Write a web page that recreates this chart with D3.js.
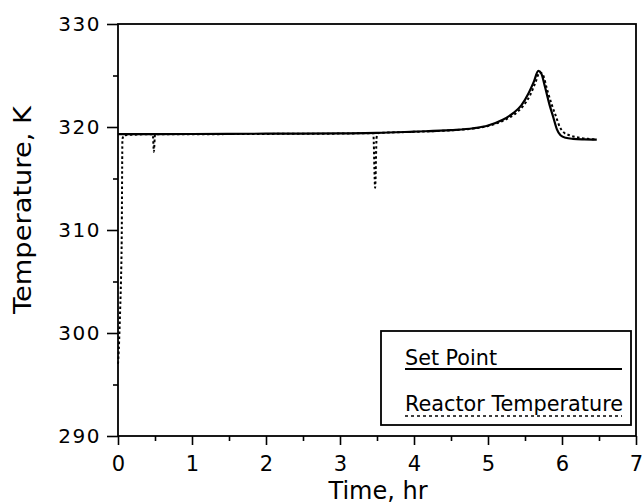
<html>
<head>
<script src="https://d3js.org/d3.v7.min.js"></script>
<style>
  body { margin: 0; background: #fff; }
  text { font-family: "DejaVu Sans", sans-serif; fill: #000; }
</style>
</head>
<body>
<svg id="chart" width="644" height="504"></svg>
<script>

// Set point curve (solid)
var spTime = [0, 1, 2, 3, 3.5, 4, 4.5, 4.8, 5.0, 5.2, 5.35, 5.45, 5.55, 5.62, 5.68, 5.72, 5.77, 5.83, 5.88, 5.93, 5.98, 6.05, 6.15, 6.3, 6.47];
var spTemp = [319.3, 319.32, 319.35, 319.38, 319.42, 319.55, 319.7, 319.88, 320.15, 320.7, 321.4, 322.1, 323.3, 324.4, 325.45, 325.2, 323.9, 322.2, 321.0, 319.8, 319.2, 318.95, 318.85, 318.8, 318.78];

// Reactor temperature (dotted)
var rtTime = [0, 0.01, 0.02, 0.03, 0.04, 0.05, 0.06, 0.08, 0.2, 0.47, 0.485, 0.5, 1, 2, 3, 3.45, 3.475, 3.495, 3.52, 4, 4.5, 4.8, 5.0, 5.2, 5.37, 5.47, 5.57, 5.64, 5.7, 5.74, 5.8, 5.86, 5.92, 5.97, 6.02, 6.1, 6.2, 6.35, 6.47];
var rtTemp = [297.0, 298.3, 300.2, 302.5, 305.0, 309.0, 318.8, 319.2, 319.25, 319.3, 317.6, 319.3, 319.3, 319.33, 319.36, 319.4, 314.1, 319.0, 319.42, 319.53, 319.68, 319.85, 320.1, 320.6, 321.3, 322.0, 323.1, 324.3, 325.3, 325.1, 323.6, 322.2, 321.0, 320.0, 319.5, 319.2, 319.0, 318.85, 318.8];

// ticks and labels
var xMajor = [0, 1, 2, 3, 4, 5, 6, 7];
var xMinor = [0.5, 1.5, 2.5, 3.5, 4.5, 5.5, 6.5];
var yMajor = [290, 300, 310, 320, 330];
var yMinor = [295, 305, 315, 325];
var legendNames = ["Set Point", "Reactor Temperature"];

var svg = d3.select("#chart");

// plot box edges (don't call these "top", window.top is read-only)
var pLeft = 118, pRight = 636, pTop = 24, pBottom = 436;

var x = d3.scaleLinear().domain([0, 7]).range([pLeft, pRight]);
var y = d3.scaleLinear().domain([290, 330]).range([pBottom, pTop]);

// ticks on the x axis, pointing down
var gx = svg.append("g").attr("transform", "translate(0," + pBottom + ")");
gx.call(d3.axisBottom(x).tickValues(xMajor).tickSizeInner(9).tickSizeOuter(0).tickPadding(11).tickFormat(d3.format("d")));
gx.append("g").call(d3.axisBottom(x).tickValues(xMinor).tickSizeInner(5).tickSizeOuter(0).tickFormat(""));
gx.selectAll(".domain").remove();
gx.selectAll("line").attr("stroke", "#000").attr("stroke-width", 1.6);
gx.selectAll("text").attr("font-size", 21).attr("dy", "0.71em");

// ticks on the y axis, pointing left
var gy = svg.append("g").attr("transform", "translate(" + pLeft + ",0)");
gy.call(d3.axisLeft(y).tickValues(yMajor).tickSizeInner(11).tickSizeOuter(0).tickPadding(6).tickFormat(d3.format("d")));
gy.append("g").call(d3.axisLeft(y).tickValues(yMinor).tickSizeInner(5).tickSizeOuter(0).tickFormat(""));
gy.selectAll(".domain").remove();
gy.selectAll("line").attr("stroke", "#000").attr("stroke-width", 1.6);
gy.selectAll("text").attr("font-size", 20).attr("letter-spacing", 1.5);

// plot frame
svg.append("rect")
  .attr("x", pLeft).attr("y", pTop)
  .attr("width", pRight - pLeft).attr("height", pBottom - pTop)
  .attr("fill", "none").attr("stroke", "#000").attr("stroke-width", 1.8);

// axis titles
svg.append("text")
  .attr("x", 378).attr("y", 499)
  .attr("text-anchor", "middle")
  .attr("font-size", 24)
  .text("Time, hr");

svg.append("text")
  .attr("transform", "translate(31,210) rotate(-90)")
  .attr("text-anchor", "middle")
  .attr("font-size", 24)
  .attr("textLength", 208).attr("lengthAdjust", "spacingAndGlyphs")
  .text("Temperature, K");

// curves
var line = d3.line()
  .x(function(d) { return x(d[0]); })
  .y(function(d) { return y(d[1]); })
  .curve(d3.curveMonotoneX);

var spData = spTime.map(function(t, i) { return [t, spTemp[i]]; });
var rtData = rtTime.map(function(t, i) { return [t, rtTemp[i]]; });

svg.append("path")
  .attr("d", line(spData))
  .attr("fill", "none").attr("stroke", "#000").attr("stroke-width", 2.2);

svg.append("path")
  .attr("d", line(rtData))
  .attr("fill", "none").attr("stroke", "#000").attr("stroke-width", 2)
  .attr("stroke-dasharray", "2.5,2.5");

// legend box
var lg = svg.append("g");
lg.append("rect")
  .attr("x", 381).attr("y", 331).attr("width", 250).attr("height", 94)
  .attr("fill", "#fff").attr("stroke", "#000").attr("stroke-width", 1.8);

lg.append("text").attr("x", 405).attr("y", 365).attr("font-size", 22)
  .attr("textLength", 92).attr("lengthAdjust", "spacingAndGlyphs")
  .text(legendNames[0]);
lg.append("line").attr("x1", 405).attr("x2", 622).attr("y1", 369).attr("y2", 369)
  .attr("stroke", "#000").attr("stroke-width", 1.8);

lg.append("text").attr("x", 405).attr("y", 411).attr("font-size", 22)
  .attr("textLength", 218).attr("lengthAdjust", "spacingAndGlyphs")
  .text(legendNames[1]);
lg.append("line").attr("x1", 405).attr("x2", 622).attr("y1", 416).attr("y2", 416)
  .attr("stroke", "#000").attr("stroke-width", 1.6)
  .attr("stroke-dasharray", "3,3");

</script>
</body>
</html>
